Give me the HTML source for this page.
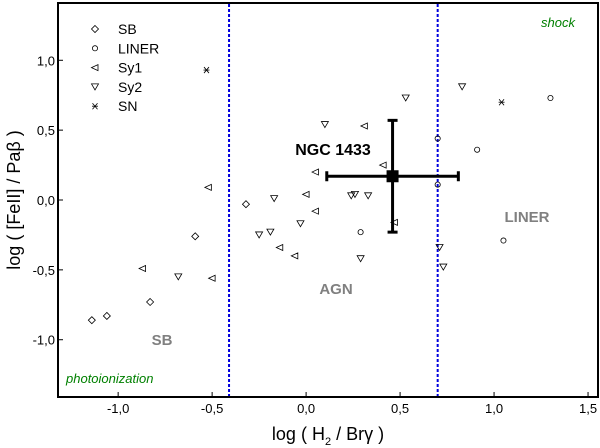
<!DOCTYPE html>
<html><head><meta charset="utf-8"><style>
body{margin:0;background:#fff;}
svg{display:block;font-family:"Liberation Sans",sans-serif;}
</style></head><body>
<svg id="chart" width="600" height="448"></svg>
<script>
const sbX=[-1.14,-1.06,-0.83,-0.59,-0.32];
const sbY=[-0.86,-0.83,-0.73,-0.26,-0.03];
const linerX=[0.70,0.70,0.91,1.30,0.29,1.05];
const linerY=[0.44,0.11,0.36,0.73,-0.23,-0.29];
const sy1X=[-0.52,0.05,0.0,0.05,-0.87,-0.50,-0.14,-0.06,0.31,0.41,0.47];
const sy1Y=[0.09,0.2,0.04,-0.08,-0.49,-0.56,-0.34,-0.40,0.53,0.25,-0.16];
const sy2X=[0.10,0.53,0.83,0.24,0.26,0.33,0.29,0.71,0.73,-0.17,-0.03,-0.25,-0.19,-0.68];
const sy2Y=[0.54,0.73,0.81,0.03,0.04,0.03,-0.42,-0.34,-0.48,0.01,-0.17,-0.25,-0.23,-0.55];
const snX=[-0.53,1.04];
const snY=[0.93,0.70];
const ngcX=0.46, ngcY=0.17, ngcXErr=[0.11,0.81], ngcYErr=[-0.23,0.57];
const xTicks=[-1.0,-0.5,0.0,0.5,1.0,1.5];
const yTicks=[-1.0,-0.5,0.0,0.5,1.0];
const dividers=[-0.41,0.70];

const svg=document.getElementById('chart');
const NS='http://www.w3.org/2000/svg';
const L=58,R=598,T=3,B=397;
const xMin=-1.32,xMax=1.553,yMin=-1.41,yMax=1.41;
const sx=v=>L+(v-xMin)/(xMax-xMin)*(R-L);
const sy=v=>B-(v-yMin)/(yMax-yMin)*(B-T);
function mk(tag,attrs,parent){const e=document.createElementNS(NS,tag);for(const k in attrs)e.setAttribute(k,attrs[k]);(parent||svg).appendChild(e);return e;}
const fmt=v=>v.toFixed(1).replace('.',',');

const frame=mk('rect',{x:L,y:T,width:R-L,height:B-T,fill:'none',stroke:'#000','stroke-width':2});



xTicks.forEach(v=>{
 const t=mk('line',{x1:sx(v),x2:sx(v),y1:B,y2:B-5,stroke:'#000','stroke-width':1});
 
 
 const tx=mk('text',{x:sx(v),y:B+16,'font-size':13,'text-anchor':'middle'});tx.textContent=fmt(v);
 
 
});
yTicks.forEach(v=>{
 const t=mk('line',{x1:L,x2:L+5,y1:sy(v),y2:sy(v),stroke:'#000','stroke-width':1});
 
 
 const tx=mk('text',{x:L-3,y:sy(v)+5,'font-size':13,'text-anchor':'end'});tx.textContent=fmt(v);
 
 
});
dividers.forEach(v=>{
 const l=mk('line',{x1:sx(v),x2:sx(v),y1:T+1,y2:B-1,stroke:'#0000dd','stroke-width':2,'stroke-dasharray':'3,2'});
 
 
});

function marker(type,cx,cy,parent){
 const st={fill:'none',stroke:'#000','stroke-width':0.8};
 let e;
 if(type==='diamond')e=mk('polygon',Object.assign({points:`${cx},${cy-3.5} ${cx+3.5},${cy} ${cx},${cy+3.5} ${cx-3.5},${cy}`},st),parent);
 else if(type==='circle')e=mk('circle',Object.assign({cx:cx,cy:cy,r:2.6},st),parent);
 else if(type==='left')e=mk('polygon',Object.assign({points:`${cx-3.5},${cy} ${cx+3},${cy-3} ${cx+3},${cy+3}`},st),parent);
 else if(type==='down')e=mk('polygon',Object.assign({points:`${cx-3.5},${cy-3} ${cx+3.5},${cy-3} ${cx},${cy+3}`},st),parent);
 else {e=mk('g',{},parent);
  mk('line',{x1:cx-3,x2:cx+3,y1:cy,y2:cy,stroke:'#000','stroke-width':0.8},e);
  mk('line',{x1:cx-2.5,x2:cx+2.5,y1:cy-3,y2:cy+3,stroke:'#000','stroke-width':0.8},e);
  mk('line',{x1:cx-2.5,x2:cx+2.5,y1:cy+3,y2:cy-3,stroke:'#000','stroke-width':0.8},e);}
 return e;
}
const series=[['sb','diamond',sbX,sbY],['liner','circle',linerX,linerY],['sy1','left',sy1X,sy1Y],['sy2','down',sy2X,sy2Y],['sn','star',snX,snY]];
series.forEach(([n,t,xs,ys])=>{
 const g=mk('g',{});
 
 
 xs.forEach((x,i)=>{const m=marker(t,sx(x),sy(ys[i]),g);
  
  });
});

// NGC 1433 error bars
const ng=mk('g',{});


mk('line',{x1:sx(ngcXErr[0]),x2:sx(ngcXErr[1]),y1:sy(ngcY),y2:sy(ngcY),stroke:'#000','stroke-width':3},ng);
mk('line',{x1:sx(ngcX),x2:sx(ngcX),y1:sy(ngcYErr[0]),y2:sy(ngcYErr[1]),stroke:'#000','stroke-width':3},ng);
[ngcXErr[0],ngcXErr[1]].forEach(v=>mk('line',{x1:sx(v),x2:sx(v),y1:sy(ngcY)-5,y2:sy(ngcY)+5,stroke:'#000','stroke-width':3},ng));
[ngcYErr[0],ngcYErr[1]].forEach(v=>mk('line',{x1:sx(ngcX)-5,x2:sx(ngcX)+5,y1:sy(v),y2:sy(v),stroke:'#000','stroke-width':3},ng));
mk('rect',{x:sx(ngcX)-6,y:sy(ngcY)-6,width:12,height:12,fill:'#000'},ng);

// legend
const lg=mk('g',{});


[['SB','diamond'],['LINER','circle'],['Sy1','left'],['Sy2','down'],['SN','star']].forEach(([lab,t],i)=>{
 const y=29+i*19.3;
 marker(t,95,y,lg);
 const tx=mk('text',{x:118,y:y+5,'font-size':14},lg);tx.textContent=lab;
 
 
});

function label(txt,x,y,attrs,name){const t=mk('text',Object.assign({x:x,y:y},attrs));t.textContent=txt;
 
 return t;}
label('shock',575,27,{'font-size':13,'font-style':'italic',fill:'#008000','text-anchor':'end'},'shock-label');
label('photoionization',66,383,{'font-size':13,'font-style':'italic',fill:'#008000'},'photoionization-label');
label('SB',162,345,{'font-size':15,'font-weight':'bold',fill:'#808080','text-anchor':'middle'},'sb-region-label');
label('AGN',336,294,{'font-size':15,'font-weight':'bold',fill:'#808080','text-anchor':'middle'},'agn-region-label');
label('LINER',527,222,{'font-size':15,'font-weight':'bold',fill:'#808080','text-anchor':'middle'},'liner-region-label');
label('NGC 1433',333,155,{'font-size':16,'font-weight':'bold','text-anchor':'middle'},'ngc1433-label');

const xt=mk('text',{x:328,y:440,'font-size':18,'text-anchor':'middle'});
xt.innerHTML='log ( H<tspan font-size="11" dy="5">2</tspan><tspan dy="-5"> / Brγ )</tspan>';


const yt=mk('text',{x:0,y:0,'font-size':18,'text-anchor':'middle',transform:'translate(20,200) rotate(-90)'});
yt.textContent='log ( [FeII] / Paβ )';


</script>
</body></html>
